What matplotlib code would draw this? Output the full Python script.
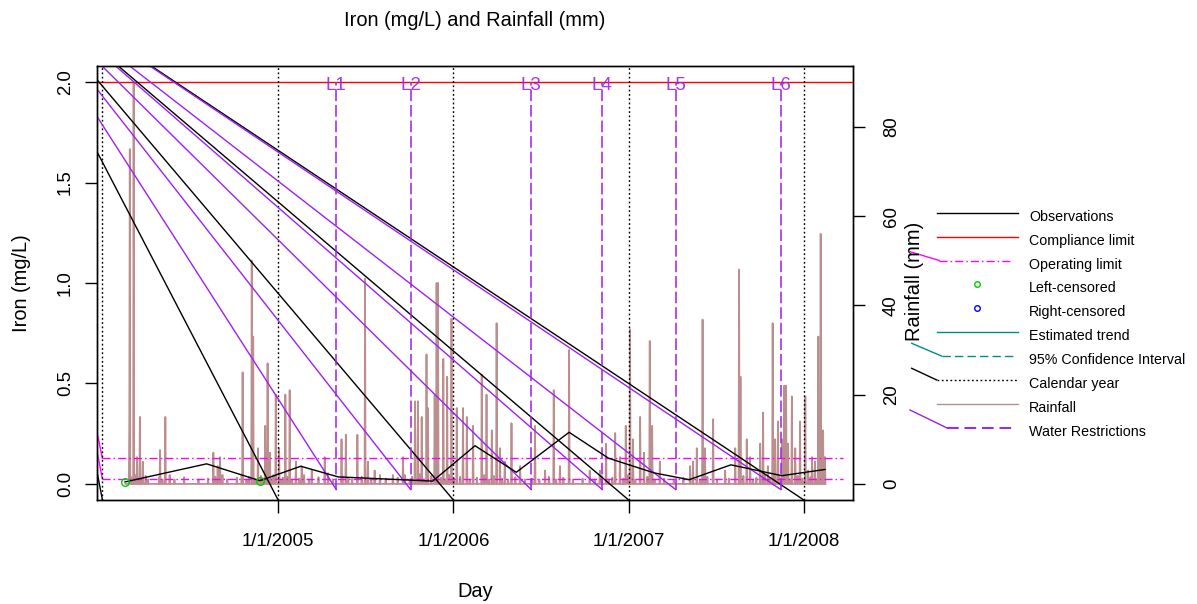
#!/usr/bin/env python3
import numpy as np
import pandas as pd
import matplotlib
matplotlib.use("Agg")
import matplotlib.pyplot as plt
import matplotlib.dates as mdates
from matplotlib.lines import Line2D

plt.rcParams['font.family'] = ['Liberation Sans', 'DejaVu Sans']

# 鉄濃度の観測値 (mg/L)
obs_dates = ["2004-02-17", "2004-08-05", "2004-11-24", "2005-02-17", "2005-05-06",
             "2005-11-19", "2006-02-15", "2006-05-12", "2006-08-30", "2006-11-20",
             "2007-02-23", "2007-05-07", "2007-08-02", "2007-11-16", "2008-02-14"]
obs_iron = [0.010, 0.100, 0.016, 0.088, 0.035, 0.014, 0.190, 0.058, 0.257, 0.128,
            0.055, 0.021, 0.095, 0.041, 0.072]
obs_left_cens = [True, False, True, False, False, False, False, False, False, False,
                 False, False, False, False, False]

compliance_limit = 2.0
operating_limits = [0.127, 0.025]
operating_span = ["2004-01-01", "2008-03-22"]

year_starts = ["2004-01-01", "2005-01-01", "2006-01-01", "2007-01-01", "2008-01-01"]
year_labels = ["1/1/2005", "1/1/2006", "1/1/2007", "1/1/2008"]

restr_dates = ["2005-05-02", "2005-10-04", "2006-06-12", "2006-11-07",
               "2007-04-09", "2007-11-14"]
restr_labels = ["L1", "L2", "L3", "L4", "L5", "L6"]
restr_bottom = -0.028

# 斜めの線の起点 (日付, 鉄濃度)
stray_origin = ("2003-06-02", 2.58)

# 降水量 (mm): 2004-01-01 からの日数と値
rain_origin = "2004-01-01"
rain_span = [48, 1506]
rain_day = [56, 57, 65, 72, 78, 84, 120, 131, 231, 240, 245, 292, 311, 314, 324, 339,
            344, 349, 361, 368, 381, 390, 403, 415, 436, 463, 498, 507, 531, 547, 553,
            567, 578, 605, 626, 651, 657, 665, 675, 678, 692, 696, 699, 710, 718, 727,
            738, 751, 759, 772, 790, 800, 811, 821, 828, 838, 852, 870, 901, 922, 940,
            953, 972, 1015, 1036, 1049, 1068, 1078, 1090, 1099, 1105, 1120, 1128, 1140,
            1145, 1161, 1224, 1230, 1238, 1250, 1255, 1272, 1297, 1318, 1326, 1329,
            1342, 1349, 1370, 1376, 1386, 1396, 1401, 1407, 1416, 1420, 1424, 1428,
            1436, 1443, 1453, 1464, 1470, 1478, 1484, 1491, 1496, 1501, 1505]
rain_mm = [14, 75, 90, 6, 15, 5, 7.6, 15, 7, 4, 6, 25, 50, 33, 8, 13,
           27, 7, 20, 8, 20, 21, 5, 4, 3, 6, 10, 11, 11, 46, 5,
           3, 2, 2, 6, 18.5, 18.5, 15, 29, 17, 20, 45, 45, 28, 24, 37,
           17, 17, 15, 13, 24.5, 20, 12, 36, 8, 5, 13.6, 4, 13, 3, 21,
           4, 30, 3, 3, 9, 11.4, 6, 13, 34.6, 10, 15, 7, 32,
           13, 5, 4, 5, 8, 36.8, 8, 14.5, 3, 8, 48, 24,
           10, 6, 9, 16, 4, 36, 10, 14, 10, 22, 22, 9,
           19.6, 8, 14, 19.6, 3, 6, 5, 33, 56, 12, 6]
# 小雨の日
drizzle_day = [60, 62, 68, 75, 81, 90, 95, 118, 125, 140, 150, 170, 200, 220, 235,
               250, 260, 280, 290, 300, 305, 318, 330, 335, 352, 356, 372, 376, 385,
               395, 410, 420, 430, 450, 470, 480, 500, 512, 520, 540, 560, 590, 615,
               630, 640, 645, 660, 670, 685, 705, 715, 722, 732, 745, 765, 780, 795,
               805, 815, 832, 845, 860, 880, 895, 910, 930, 945, 960, 980, 1000, 1025,
               1040, 1055, 1062, 1085, 1095, 1110, 1135, 1150, 1170, 1190, 1210, 1245,
               1260, 1280, 1305, 1335, 1355, 1362, 1380, 1390, 1410, 1432, 1448, 1458,
               1475, 1488, 1498]
drizzle_mm = [1.5, 1, 2, 1.2, 1, 1.8, 1, 1.4, 1, 2, 1, 1.5, 1, 1.2, 1.6,
              2, 1, 1.4, 2.2, 1, 1.6, 1, 1.8, 1.2, 1, 2, 1, 1.4, 1.6,
              1, 1.2, 2, 1, 1.5, 2.4, 1, 1.8, 1.2, 1, 1.6, 1, 1.2, 1.4,
              2, 1, 1.6, 2.2, 1, 1.8, 1.4, 1, 2, 1.2, 1.6, 1, 1.4, 2,
              1, 1.8, 1.2, 1, 1.5, 1, 1.2, 1, 1.6, 1, 1.4, 1, 1.2, 1,
              1.8, 1, 1.4, 1.2, 2, 1, 1.6, 1, 1.2, 1, 1.4, 1,
              1.6, 1, 1.2, 1.8, 1, 1.4, 2, 1.2, 1.6, 1, 1.8, 1.2,
              1.5, 1, 1.4]

col_purple = '#A020F0'
col_magenta = '#FF00FF'
col_rain = '#BC8F8F'
col_teal = '#008B8B'
col_green = '#00CD00'


def dnum(s):
    return mdates.date2num(pd.to_datetime(s))


W, H = 1197, 604
fig = plt.figure(figsize=(W / 100, H / 100), dpi=100)
ax = fig.add_axes((97 / W, 1 - 500 / H, (853 - 97) / W, (500 - 66) / H))
ax2 = ax.twinx()
ax.set_zorder(ax2.get_zorder() + 1)
ax.patch.set_visible(False)

# 降水量
days = np.arange(rain_span[0], rain_span[1] + 1)
rain = np.zeros(len(days))
for d, v in zip(drizzle_day + rain_day, drizzle_mm + rain_mm):
    rain[d - rain_span[0]] = v
ax2.plot(dnum(rain_origin) + days, rain, color=col_rain, lw=1.3)
ax2.set_ylim(-3.6, 93.6)
ax2.set_yticks([0, 20, 40, 60, 80])

xo = np.array([dnum(s) for s in obs_dates])
yo = np.array(obs_iron)
pad = 0.04 * (xo.max() - xo.min())
ax.set_xlim(xo.min() - pad, xo.max() + pad)
ax.set_ylim(-0.08, 2.08)
ybot = -0.08

ox, oy = dnum(stray_origin[0]), stray_origin[1]

# 基準線
ax.axhline(compliance_limit, color='red', lw=1)
x0, x1 = dnum(operating_span[0]), dnum(operating_span[1])
for lim in operating_limits:
    ax.plot([ox, x0], [oy, lim], color=col_magenta, lw=1)
    ax.plot([x0, x1], [lim, lim], color=col_magenta, lw=1, dashes=(5.8, 2.2, 1.1, 2.2))

# 暦年
for s in year_starts:
    xd = dnum(s)
    ax.plot([ox, xd], [oy, ybot], color='k', lw=1)
    ax.plot([xd, xd], [ybot, 2.08], color='k', lw=1, dashes=(1.3, 1.8))

# 給水制限
for s, lab in zip(restr_dates, restr_labels):
    xd = dnum(s)
    ax.plot([ox, xd], [oy, restr_bottom], color=col_purple, lw=1)
    ax.plot([xd, xd], [restr_bottom, compliance_limit], color=col_purple, lw=1.4,
            dashes=(6, 2), alpha=0.8)
    ax.text(xd, 1.985, lab, color=col_purple, ha='center', va='center', fontsize=13.5,
            alpha=0.9)

# 観測値
ax.plot(xo, yo, color='k', lw=1)
lc = np.array(obs_left_cens)
ax.plot(xo[lc], yo[lc], 'o', mfc='none', mec=col_green, ms=5.5, mew=1)

# 軸
ax.set_yticks([0, 0.5, 1.0, 1.5, 2.0])
ax.set_yticklabels(["0.0", "0.5", "1.0", "1.5", "2.0"])
ax.set_xticks([dnum(s) for s in year_starts[1:]])
ax.set_xticklabels(year_labels)
ax.tick_params(axis='x', length=9.4, width=1, pad=14, labelsize=13.4)
ax.tick_params(axis='y', length=8.6, width=1, pad=7.9, labelsize=13.4, labelrotation=90)
ax2.tick_params(axis='y', length=8.6, width=1, pad=13, labelsize=13.4, labelrotation=90)
for lab in ax.get_yticklabels() + ax2.get_yticklabels():
    lab.set_va('center')
for a in (ax, ax2):
    for sp in a.spines.values():
        sp.set_linewidth(1)

fig.text(475 / W, 1 - 20 / H, "Iron (mg/L) and Rainfall (mm)", ha='center', va='center',
         fontsize=14.4)
fig.text(475 / W, 1 - 591.7 / H, "Day", ha='center', va='center', fontsize=14.4)
fig.text(22 / W, 1 - 283 / H, "Iron (mg/L)", rotation=90, ha='center', va='center',
         fontsize=14.4)
fig.text(915 / W, 1 - 281.5 / H, "Rainfall (mm)", rotation=90, ha='center', va='center',
         fontsize=14.4)

# 凡例
leg_labels = ["Observations", "Compliance limit", "Operating limit", "Left-censored",
              "Right-censored", "Estimated trend", "95% Confidence Interval",
              "Calendar year", "Rainfall", "Water Restrictions"]
leg_kind = ['line', 'line', 'line', 'pt', 'pt', 'line', 'line', 'line', 'line', 'line']
leg_color = ['k', 'red', col_magenta, col_green, 'blue', col_teal, col_teal, 'k',
             col_rain, col_purple]
leg_dash = [None, None, (5.8, 2.2, 1.1, 2.2), None, None, None, (6, 3), (1.3, 1.8),
            None, (6, 3)]
leg_x0 = [936.7, 936.7, 939.3, 0, 0, 936.7, 941.7, 936.7, 936.7, 946.7]
leg_x1 = [1018.3, 1018.3, 1011.7, 0, 0, 1018.3, 1016.7, 1018.3, 1018.3, 1013.3]
stub_start = {2: (910, 251.7), 6: (911.7, 343.3), 7: (911.7, 368.3), 9: (910, 410)}

fx = lambda px: px / W
fy = lambda py: 1 - py / H
for i, lab in enumerate(leg_labels):
    yr = 212.7 + i * 23.9
    if leg_kind[i] == 'line':
        kw = dict(color=leg_color[i], lw=1.4 if i == 9 else 1, transform=fig.transFigure)
        if leg_dash[i] is not None:
            kw['dashes'] = leg_dash[i]
        fig.add_artist(Line2D([fx(leg_x0[i]), fx(leg_x1[i])], [fy(yr), fy(yr)], **kw))
    else:
        fig.add_artist(Line2D([fx(976.7)], [fy(yr)], marker='o', mfc='none',
                              mec=leg_color[i], ms=4, mew=1, transform=fig.transFigure))
    if i in stub_start:
        sx, sy = stub_start[i]
        fig.add_artist(Line2D([fx(sx), fx(leg_x0[i])], [fy(sy), fy(yr)],
                              color=leg_color[i], lw=1, transform=fig.transFigure))
    fig.text(fx(1029.3), fy(yr + 8), lab, ha='left', va='baseline', fontsize=10.3)

fig.savefig("out.png", dpi=100)
